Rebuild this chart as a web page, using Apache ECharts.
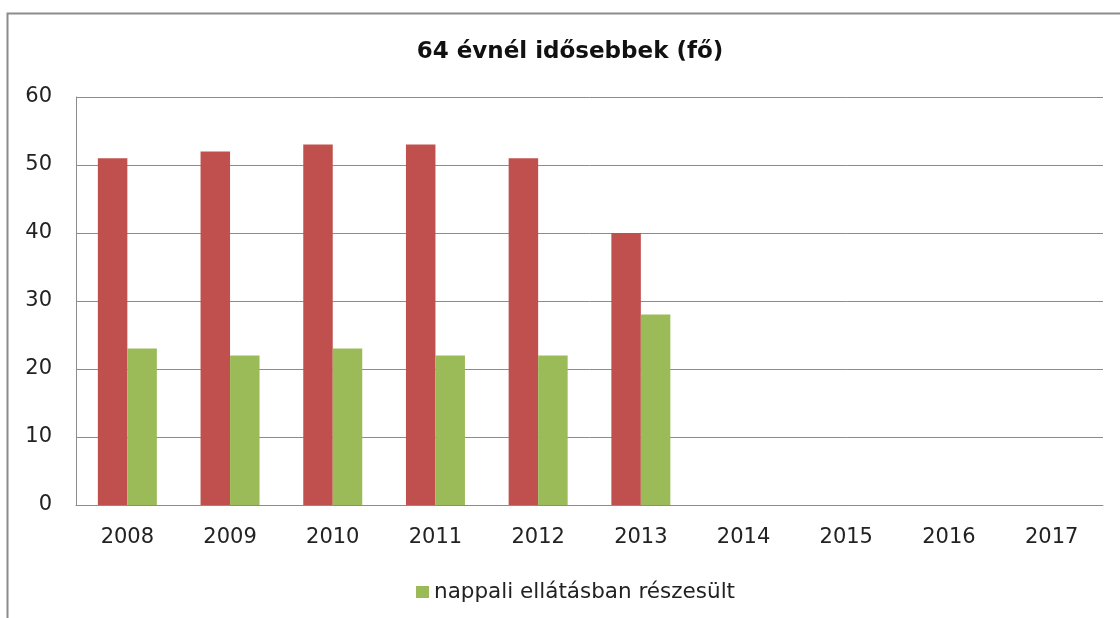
<!DOCTYPE html>
<html>
<head>
<meta charset="utf-8">
<script src="https://cdn.jsdelivr.net/npm/echarts@6/dist/echarts.min.js"></script>
<style>
  html, body { margin: 0; padding: 0; background: #fff; }
  #chart { width: 1120px; height: 618px; }
</style>
</head>
<body>
<div id="chart"></div>
<script>
const years = ['2008', '2009', '2010', '2011', '2012', '2013', '2014', '2015', '2016', '2017'];
const redValues = [51, 52, 53, 53, 51, 40, null, null, null, null];
const greenValues = [23, 22, 23, 22, 22, 28, null, null, null, null];
const greenName = 'nappali ellátásban részesült';

const FONT = '"DejaVu Sans", sans-serif';

const chart = echarts.init(document.getElementById('chart'));

chart.setOption({
    animation: false,
    backgroundColor: '#fff',
    title: {
        text: '64 évnél idősebbek (fő)',
        left: 565,
        top: 36,
        textAlign: 'center',
        textStyle: { fontFamily: FONT, fontSize: 23, fontWeight: 'bold', color: '#111' }
    },
    graphic: [{
        type: 'rect',
        shape: { x: 7.5, y: 13.5, width: 1300, height: 800 },
        style: { fill: 'none', stroke: '#8c8c8c', lineWidth: 2 },
        silent: true
    }],
    legend: {
        data: [greenName],
        left: 411,
        top: 576,
        itemWidth: 13,
        itemHeight: 12,
        itemGap: 8,
        icon: 'rect',
        textStyle: { fontFamily: FONT, fontSize: 21.5, color: '#222' }
    },
    grid: { left: 76, right: 17, top: 97, bottom: 113, containLabel: false },
    xAxis: {
        type: 'category',
        data: years,
        axisLine: { show: true, lineStyle: { color: '#8c8c8c', width: 1 } },
        axisTick: { show: false },
        axisLabel: { fontFamily: FONT, fontSize: 21, color: '#222', margin: 22 }
    },
    yAxis: {
        type: 'value',
        min: 0,
        max: 60,
        interval: 10,
        axisLine: { show: true, lineStyle: { color: '#8c8c8c', width: 1 } },
        axisTick: { show: false },
        splitLine: { show: true, lineStyle: { color: '#8c8c8c', width: 1 } },
        axisLabel: { fontFamily: FONT, fontSize: 21, color: '#222', margin: 24 }
    },
    series: [
        {
            name: 'idősebbek',
            type: 'bar',
            data: redValues,
            barWidth: 29.5,
            barGap: '0%',
            itemStyle: { color: '#C0504D' }
        },
        {
            name: greenName,
            type: 'bar',
            data: greenValues,
            barWidth: 29.5,
            barGap: '0%',
            itemStyle: { color: '#9BBB59' }
        }
    ]
});
</script>
</body>
</html>
